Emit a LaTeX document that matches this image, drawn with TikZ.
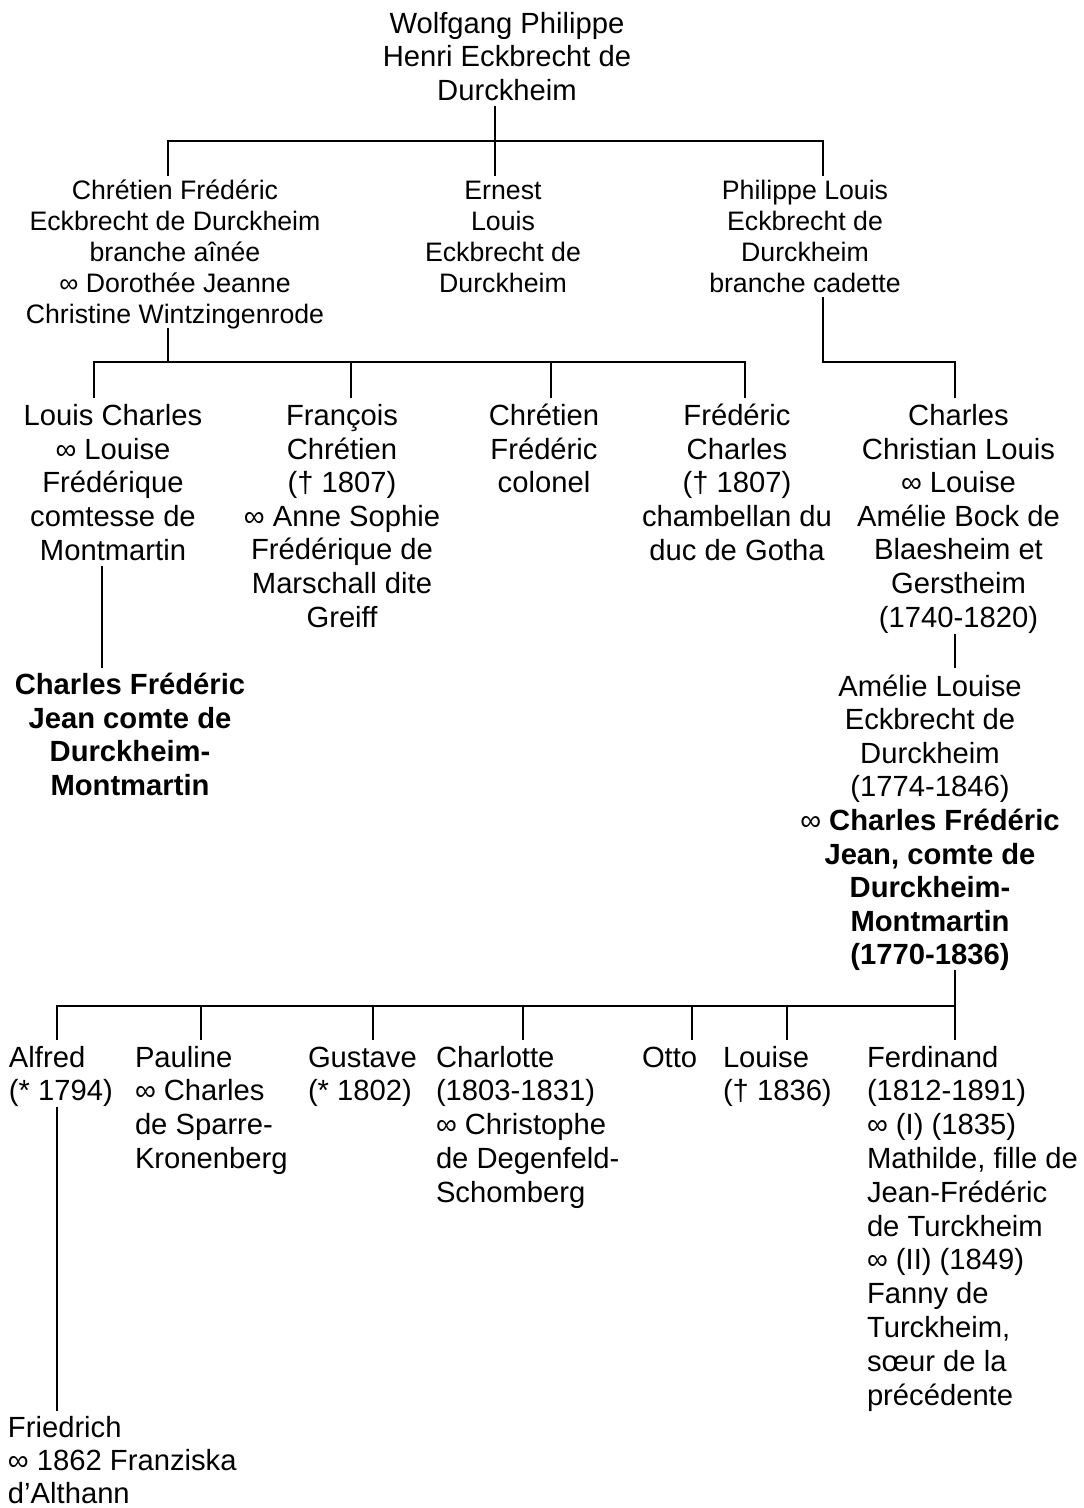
\documentclass[tikz,border=0pt]{standalone}
\usepackage{fontspec}
\setmainfont{Liberation Sans}
\begin{document}
\begin{tikzpicture}[x=1pt,y=-1pt,
  lbl/.style={inner sep=0pt, outer sep=0pt, align=center, anchor=base, font=\fontsize{29.2}{33.6}\selectfont},
  lbltwo/.style={lbl, font=\fontsize{26.7}{31}\selectfont},
  lblleft/.style={inner sep=0pt, outer sep=0pt, align=left, anchor=base west, font=\fontsize{29.2}{33.8}\selectfont},
  conn/.style={line width=2pt, line cap=rect}]
\useasboundingbox (0,0) rectangle (1084,1508);

% ---- persons (node anchor = baseline of the last line) ----
\node[lbl, font=\fontsize{29.2}{33.3}\selectfont] (wolf) at (507,100) {Wolfgang Philippe\\Henri Eckbrecht de\\Durckheim};

\node[lbltwo] (chr) at (175,323.5) {Chrétien Frédéric\\Eckbrecht de Durckheim\\branche aînée\\∞ Dorothée Jeanne\\Christine Wintzingenrode};
\node[lbltwo] (ern) at (503,292.5) {Ernest\\Louis\\Eckbrecht de\\Durckheim};
\node[lbltwo] (phi) at (805,292.5) {Philippe Louis\\Eckbrecht de\\Durckheim\\branche cadette};

\node[lbl] (louis) at (113,560) {Louis Charles\\∞ Louise\\Frédérique\\comtesse de\\Montmartin};
\node[lbl] (fran) at (342,627) {François\\Chrétien\\(† 1807)\\∞ Anne Sophie\\Frédérique de\\Marschall dite\\Greiff};
\node[lbl] (chc) at (544,492.7) {Chrétien\\Frédéric\\colonel};
\node[lbl] (frc) at (737,560) {Frédéric\\Charles\\(† 1807)\\chambellan du\\duc de Gotha};
\node[lbl] (ccl) at (958.5,627) {Charles\\Christian Louis\\∞ Louise\\Amélie Bock de\\Blaesheim et\\Gerstheim\\(1740-1820)};

\node[lbl] (cfj) at (130,795.5) {\bfseries Charles Frédéric\\\bfseries Jean comte de\\\bfseries Durckheim-\\\bfseries Montmartin};
\node[lbl] (ame) at (930,964.8) {Amélie Louise\\Eckbrecht de\\Durckheim\\(1774-1846)\\∞ \textbf{Charles Frédéric}\\\bfseries Jean, comte de\\\bfseries Durckheim-\\\bfseries Montmartin\\\bfseries (1770-1836)};

\node[lblleft] (alf) at (9,1100.8) {Alfred\\(* 1794)};
\node[lblleft] (pau) at (135,1168.4) {Pauline\\∞ Charles\\de Sparre-\\Kronenberg};
\node[lblleft] (gus) at (308,1100.8) {Gustave\\(* 1802)};
\node[lblleft] (cha) at (436,1202.2) {Charlotte\\(1803-1831)\\∞ Christophe\\de Degenfeld-\\Schomberg};
\node[lblleft] (ott) at (642,1067) {Otto};
\node[lblleft] (lou) at (723,1100.8) {Louise\\(† 1836)};
\node[lblleft] (fer) at (867,1405) {Ferdinand\\(1812-1891)\\∞ (I) (1835)\\Mathilde, fille de\\Jean-Frédéric\\de Turckheim\\∞ (II) (1849)\\Fanny de\\Turckheim,\\sœur de la\\précédente};

\node[lblleft, font=\fontsize{29.2}{33}\selectfont] (fri) at (8,1503) {Friedrich\\∞ 1862 Franziska\\d’Althann};

% ---- junction points ----
\coordinate (wTop) at (495,107);
\coordinate (wBar) at (495,141);
\coordinate (wL) at (168,141);
\coordinate (wR) at (823,141);
\coordinate (chrIn) at (168,175);
\coordinate (ernIn) at (495,175);
\coordinate (phiIn) at (823,175);

\coordinate (chrOut) at (168,329);
\coordinate (chrBar) at (168,362);
\coordinate (cL) at (93.5,362);
\coordinate (cR) at (745,362);
\coordinate (louisIn) at (93.5,397);
\coordinate (franIn) at (351,397);
\coordinate (chcIn) at (551,397);
\coordinate (frcIn) at (745,397);

\coordinate (phiOut) at (823,298);
\coordinate (phiBar) at (823,362);
\coordinate (cclBar) at (955,362);
\coordinate (cclIn) at (955,397);

\coordinate (louisOut) at (102,567);
\coordinate (cfjIn) at (102,667);
\coordinate (cclOut) at (955,635);
\coordinate (ameIn) at (955,667);

\coordinate (ameOut) at (955,971);
\coordinate (aBar) at (955,1006);
\coordinate (aL) at (57,1006);
\coordinate (alfIn) at (57,1039);
\coordinate (pauIn) at (200.7,1039);
\coordinate (gusIn) at (373,1039);
\coordinate (chaIn) at (523,1039);
\coordinate (ottIn) at (692,1039);
\coordinate (louIn) at (787,1039);
\coordinate (ferIn) at (955,1039);
\coordinate (alfOut) at (57,1108);
\coordinate (friIn) at (57,1410);

% ---- connectors ----
\draw[conn] (wTop) -- (wBar);
\draw[conn] (wL) -- (wR);
\draw[conn] (wL) -- (chrIn);
\draw[conn] (wBar) -- (ernIn);
\draw[conn] (wR) -- (phiIn);

\draw[conn] (chrOut) -- (chrBar);
\draw[conn] (cL) -- (cR);
\draw[conn] (cL) -- (louisIn);
\draw[conn] (franIn |- cL) -- (franIn);
\draw[conn] (chcIn |- cL) -- (chcIn);
\draw[conn] (cR) -- (frcIn);

\draw[conn] (phiOut) -- (phiBar) -- (cclBar) -- (cclIn);

\draw[conn] (louisOut) -- (cfjIn);
\draw[conn] (cclOut) -- (ameIn);

\draw[conn] (ameOut) -- (aBar);
\draw[conn] (aL) -- (aBar);
\draw[conn] (aL) -- (alfIn);
\draw[conn] (pauIn |- aL) -- (pauIn);
\draw[conn] (gusIn |- aL) -- (gusIn);
\draw[conn] (chaIn |- aL) -- (chaIn);
\draw[conn] (ottIn |- aL) -- (ottIn);
\draw[conn] (louIn |- aL) -- (louIn);
\draw[conn] (aBar) -- (ferIn);

\draw[conn] (alfOut) -- (friIn);
\end{tikzpicture}
\end{document}
